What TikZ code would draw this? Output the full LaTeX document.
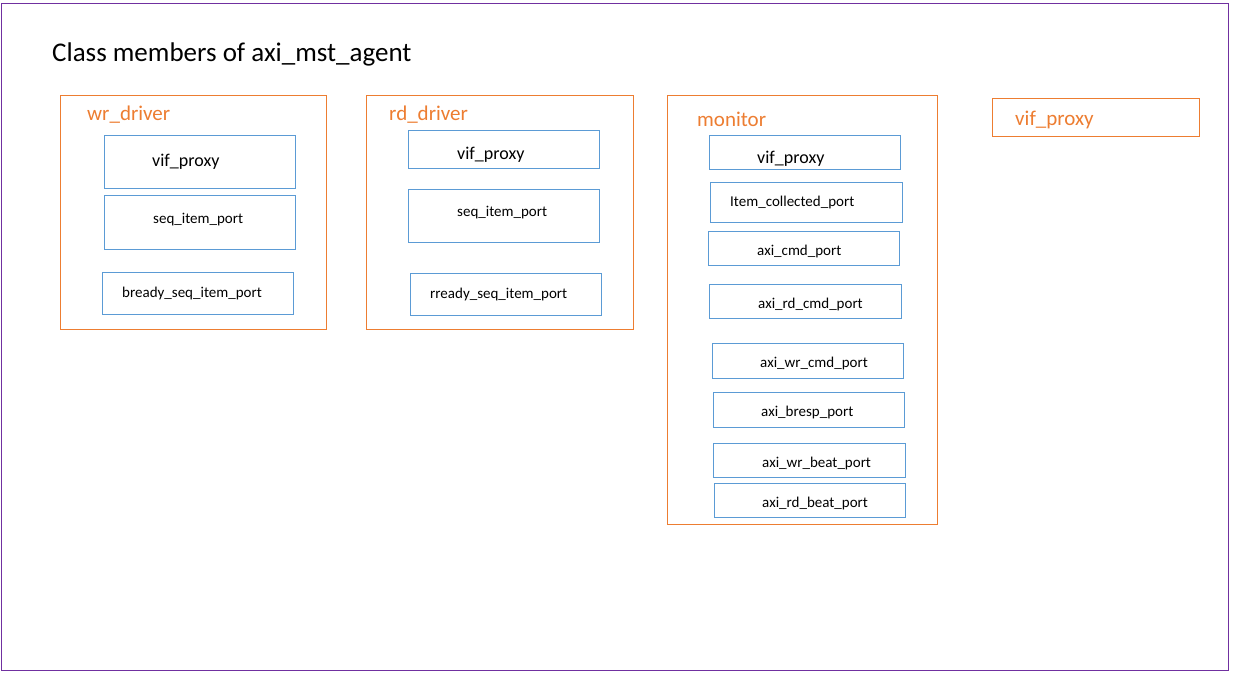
\documentclass[tikz,border=0pt]{standalone}
\usepackage{fontspec}
\setmainfont{Carlito}
\definecolor{orng}{HTML}{ED7D31}
\definecolor{blu}{HTML}{5B9BD5}
\definecolor{purp}{HTML}{7030A0}
\tikzset{
  frame/.style={draw=purp, line width=1pt},
  obox/.style={draw=orng, line width=1pt, fill=none},
  bbox/.style={draw=blu, line width=1pt},
  lbl/.style={anchor=west, inner sep=0pt, text=black, yshift=-1.5pt},
  olbl/.style={anchor=west, inner sep=0pt, text=orng, yshift=-1.5pt, font=\fontsize{21}{24}\selectfont},
  big/.style={font=\fontsize{18}{21}\selectfont},
  small/.style={font=\fontsize{15}{18}\selectfont},
}
\newcommand{\boxat}[6]{% style, name, x1, y1, x2, y2
  \node[#1, anchor=north west, inner sep=0pt, minimum width={(#5-#3)*1pt}, minimum height={(#6-#4)*1pt}] (#2) at (#3,#4) {};}
\begin{document}
\begin{tikzpicture}[x=1pt,y=-1pt]
\useasboundingbox (0,0) rectangle (1233,677);
\fill[white] (0,0) rectangle (1233,677);
\boxat{frame}{outer}{1}{3}{1228}{670}
\node[lbl, font=\fontsize{27}{31}\selectfont] (title) at (52,53) {Class members of axi\_mst\_agent};
% wr_driver
\boxat{obox}{wrd}{60}{95}{326}{329}
\node[olbl] (wrdl) at (87,113) {wr\_driver};
\boxat{bbox}{wrvif}{104}{135}{295}{188}
\node[lbl,big] (wrvifl) at (152,160) {vif\_proxy};
\boxat{bbox}{wrseq}{104}{195}{295}{249}
\node[lbl,small] (wrseql) at (153,218) {seq\_item\_port};
\boxat{bbox}{wrbr}{102}{272}{293}{314}
\node[lbl,small] (wrbrl) at (122,292) {bready\_seq\_item\_port};
% rd_driver
\boxat{obox}{rdd}{366}{95}{633}{329}
\node[olbl] (rddl) at (389,113) {rd\_driver};
\boxat{bbox}{rdvif}{408}{130}{599}{168}
\node[lbl,big] (rdvifl) at (457,153) {vif\_proxy};
\boxat{bbox}{rdseq}{408}{189}{599}{242}
\node[lbl,small] (rdseql) at (457,211) {seq\_item\_port};
\boxat{bbox}{rdrr}{410}{273}{601}{315}
\node[lbl,small] (rdrrl) at (430,293) {rready\_seq\_item\_port};
% monitor
\boxat{obox}{mon}{667}{95}{937}{524}
\node[olbl] (monl) at (697,118) {monitor};
\boxat{bbox}{mvif}{709}{135}{900}{169}
\node[lbl,big] (mvifl) at (757,157) {vif\_proxy};
\boxat{bbox}{mic}{710}{182}{902}{222}
\node[lbl,small] (micl) at (730,201) {Item\_collected\_port};
\boxat{bbox}{mcmd}{708}{231}{899}{265}
\node[lbl,small] (mcmdl) at (757,250) {axi\_cmd\_port};
\boxat{bbox}{mrdc}{709}{284}{901}{318}
\node[lbl,small] (mrdcl) at (758,303) {axi\_rd\_cmd\_port};
\boxat{bbox}{mwrc}{712}{343}{903}{378}
\node[lbl,small] (mwrcl) at (760,362) {axi\_wr\_cmd\_port};
\boxat{bbox}{mbr}{713}{392}{904}{427}
\node[lbl,small] (mbrl) at (761,411) {axi\_bresp\_port};
\boxat{bbox}{mwb}{713}{443}{905}{477}
\node[lbl,small] (mwbl) at (762,462) {axi\_wr\_beat\_port};
\boxat{bbox}{mrb}{714}{483}{905}{517}
\node[lbl,small] (mrbl) at (762,502) {axi\_rd\_beat\_port};
% standalone vif_proxy
\boxat{obox}{vp}{992}{98}{1199}{136}
\node[olbl] (vpl) at (1015,118) {vif\_proxy};
\end{tikzpicture}
\end{document}
